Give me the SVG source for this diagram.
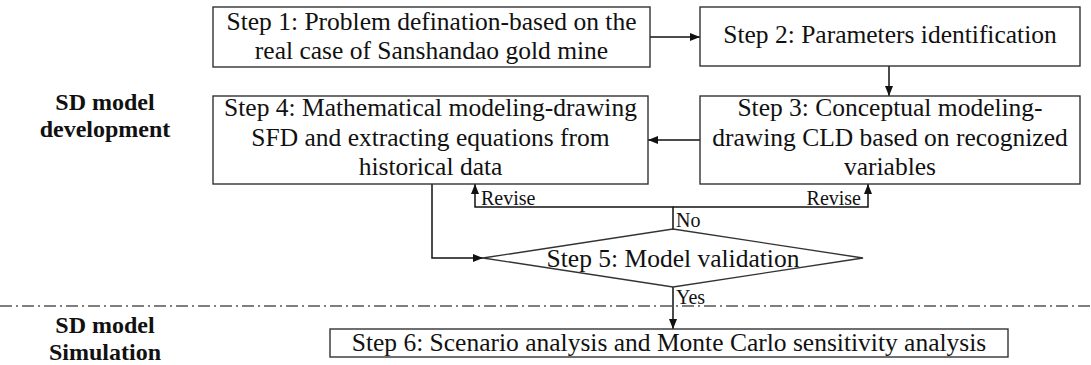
<svg xmlns="http://www.w3.org/2000/svg" width="1091" height="365" viewBox="0 0 1091 365">
  <style>
    .box { fill: #ffffff; stroke: #333333; stroke-width: 1.4; }
    .txt { font-family: "Liberation Serif", "Times New Roman", serif; font-size: 25.5px; fill: #111111; text-anchor: middle; }
    .lbl { font-family: "Liberation Serif", "Times New Roman", serif; font-size: 20px; fill: #111111; }
    .phase { font-family: "Liberation Serif", "Times New Roman", serif; font-size: 24px; font-weight: bold; fill: #111111; text-anchor: middle; }
    .wire { fill: none; stroke: #111111; stroke-width: 1.5; }
    .sep { fill: none; stroke: #555555; stroke-width: 1.3; stroke-dasharray: 12 4 2 4; }
  </style>
  <defs>
    <marker id="arrow" viewBox="0 0 10 10" refX="10" refY="5" markerWidth="10" markerHeight="10" markerUnits="userSpaceOnUse" orient="auto">
      <path d="M0 1 L10 5 L0 9 Z" fill="#111111"/>
    </marker>
  </defs>

  <rect width="1091" height="365" fill="#ffffff"/>

  <!-- phase labels -->
  <g id="phase-development">
    <text class="phase" x="105" y="110">SD model</text>
    <text class="phase" x="105" y="137">development</text>
  </g>
  <g id="phase-simulation">
    <text class="phase" x="105" y="333">SD model</text>
    <text class="phase" x="105" y="360">Simulation</text>
  </g>

  <!-- phase separator -->
  <line class="sep" x1="0" y1="306" x2="1091" y2="306"/>

  <!-- connectors -->
  <g id="connectors">
    <path class="wire" d="M650 37 H700" marker-end="url(#arrow)"/>
    <path class="wire" d="M889 66 V96" marker-end="url(#arrow)"/>
    <path class="wire" d="M700 140 H648" marker-end="url(#arrow)"/>
    <path class="wire" d="M432 184 V258 H483" marker-end="url(#arrow)"/>
    <path class="wire" d="M673 229 V207 H475 V184" marker-end="url(#arrow)"/>
    <path class="wire" d="M673 207 H868 V184" marker-end="url(#arrow)"/>
    <path class="wire" d="M673 287 V329" marker-end="url(#arrow)"/>
    <text class="lbl" x="481" y="205">Revise</text>
    <text class="lbl" x="861" y="205" text-anchor="end">Revise</text>
    <text class="lbl" x="676" y="227">No</text>
    <text class="lbl" x="676" y="304">Yes</text>
  </g>

  <!-- process steps -->
  <g id="step1">
    <rect class="box" x="213" y="7" width="437" height="60"/>
    <text class="txt" x="431.5" y="30">Step 1: Problem defination-based on the</text>
    <text class="txt" x="431.5" y="59">real case of Sanshandao gold mine</text>
  </g>
  <g id="step2">
    <rect class="box" x="700" y="7" width="380" height="59"/>
    <text class="txt" x="890" y="43">Step 2: Parameters identification</text>
  </g>
  <g id="step3">
    <rect class="box" x="700" y="96" width="380" height="88"/>
    <text class="txt" x="890" y="116">Step 3: Conceptual modeling-</text>
    <text class="txt" x="890" y="146">drawing CLD based on recognized</text>
    <text class="txt" x="890" y="175">variables</text>
  </g>
  <g id="step4">
    <rect class="box" x="213" y="96" width="435" height="88"/>
    <text class="txt" x="430.5" y="116">Step 4: Mathematical modeling-drawing</text>
    <text class="txt" x="430.5" y="146">SFD and extracting equations from</text>
    <text class="txt" x="430.5" y="175">historical data</text>
  </g>
  <g id="step5">
    <polygon class="box" points="483,258 673,229 863,258 673,287"/>
    <text class="txt" x="673" y="267">Step 5: Model validation</text>
  </g>
  <g id="step6">
    <rect class="box" x="330" y="329" width="678" height="28"/>
    <text class="txt" x="669" y="351">Step 6: Scenario analysis and Monte Carlo sensitivity analysis</text>
  </g>
</svg>
